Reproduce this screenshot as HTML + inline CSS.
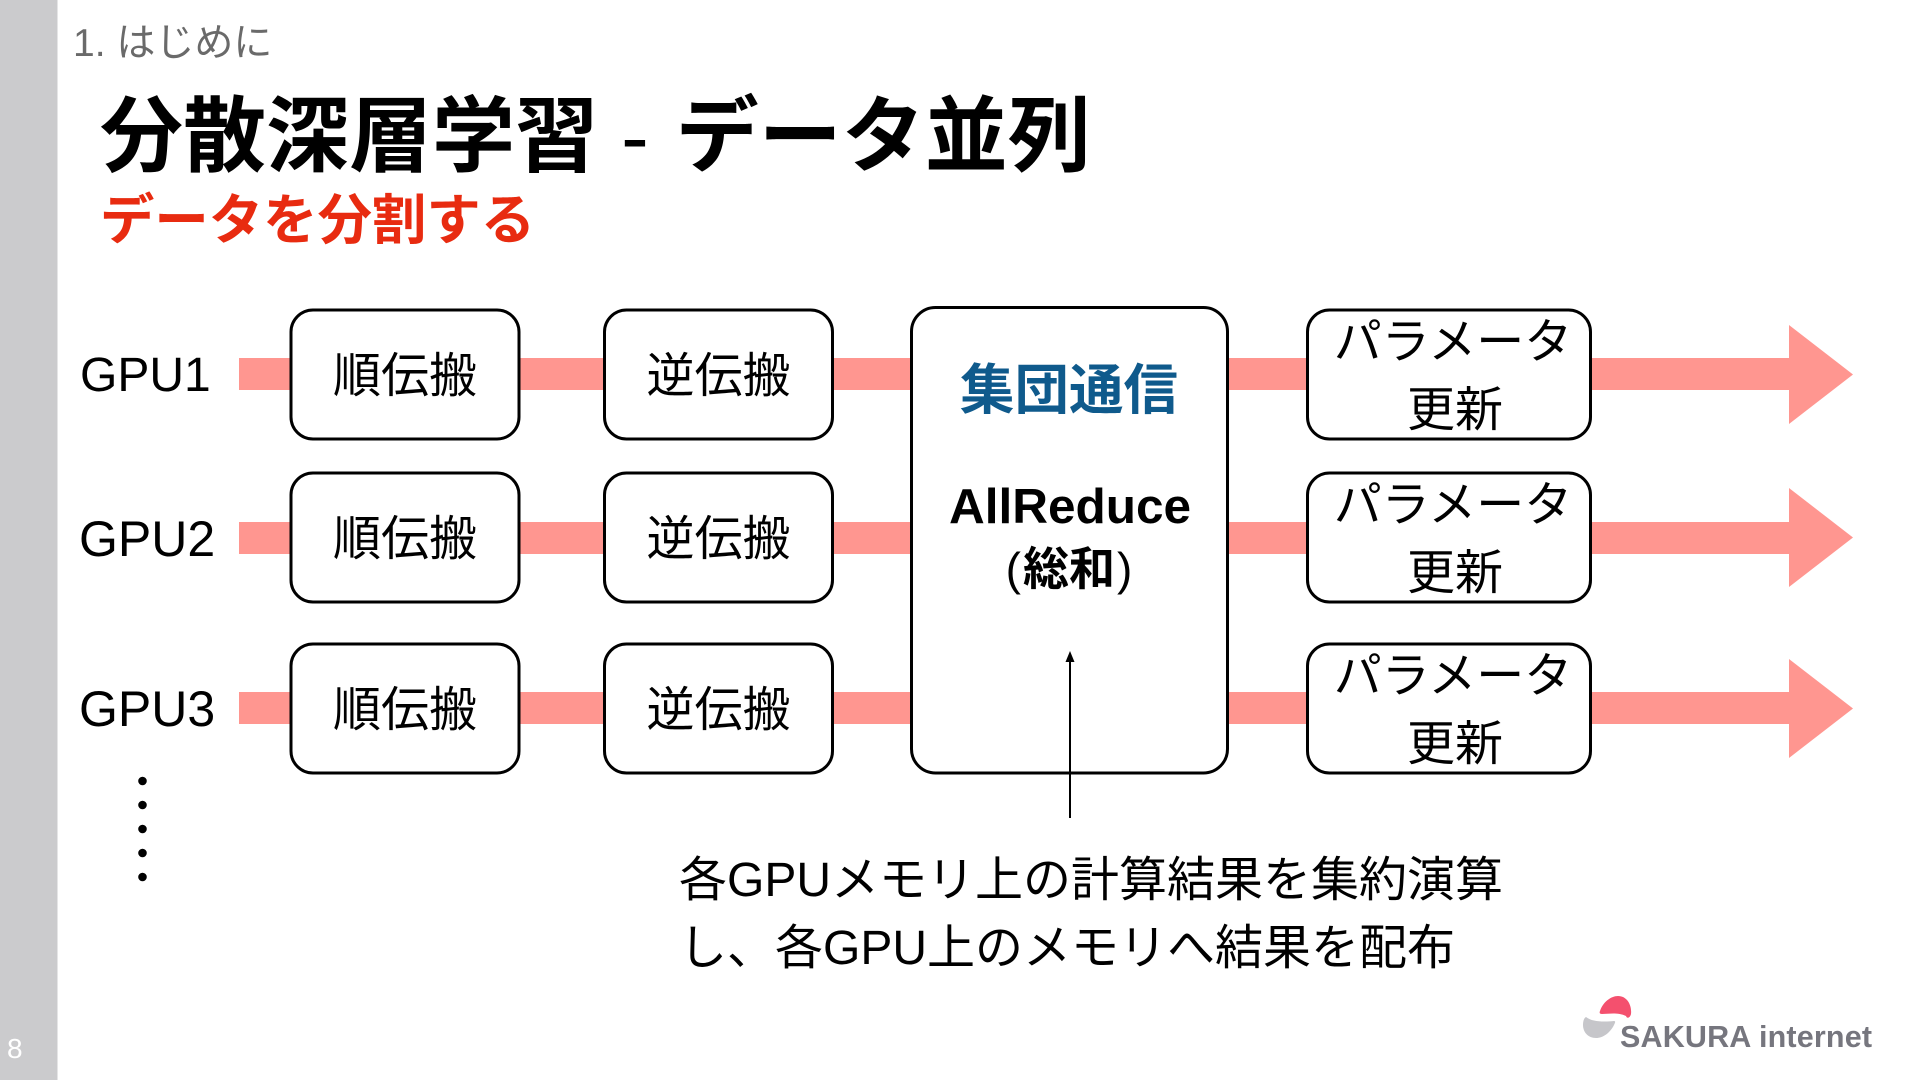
<!DOCTYPE html>
<html><head><meta charset="utf-8"><style>
html,body{margin:0;padding:0;background:#fff;width:1920px;height:1080px;overflow:hidden}
svg{display:block}
text{font-family:"Liberation Sans","Noto Sans CJK JP",sans-serif;fill:#000}
.b{font-size:48px;text-anchor:middle}
.g{font-size:50px}
.box{fill:#fff;stroke:#000;stroke-width:3}
.bar{fill:#ff9690}
</style></head><body>
<svg width="1920" height="1080" viewBox="0 0 1920 1080" xmlns="http://www.w3.org/2000/svg">
<rect width="1920" height="1080" fill="#fff"/>
<rect x="0" y="0" width="57.5" height="1080" fill="#cbcbcd"/>
<text x="7" y="1058" font-size="28" style="fill:#fff">8</text>
<text x="73" y="56" font-size="39" style="fill:#6a6a6a">1. はじめに</text>
<text x="100" y="165" font-size="83" font-weight="700">分散深層学習 <tspan font-weight="400">-</tspan> <tspan dx="4">データ並列</tspan></text>
<text x="100" y="239" font-size="54.4" font-weight="700" style="fill:#e82b10">データを分割する</text>

<rect class="bar" x="239" y="358" width="1560" height="32"/>
<rect class="bar" x="239" y="522" width="1560" height="32"/>
<rect class="bar" x="239" y="692" width="1560" height="32"/>
<polygon class="bar" points="1789,325 1853,374.5 1789,424"/>
<polygon class="bar" points="1789,488 1853,537.5 1789,587"/>
<polygon class="bar" points="1789,659 1853,708.5 1789,758"/>

<text x="80" y="391" font-size="48">GPU1</text>
<text class="g" x="79" y="556">GPU2</text>
<text class="g" x="79" y="726">GPU3</text>

<rect class="box" x="291" y="310" width="228" height="129" rx="22"/>
<rect class="box" x="291" y="473" width="228" height="129" rx="22"/>
<rect class="box" x="291" y="644" width="228" height="129" rx="22"/>
<rect class="box" x="604.5" y="310" width="228" height="129" rx="22"/>
<rect class="box" x="604.5" y="473" width="228" height="129" rx="22"/>
<rect class="box" x="604.5" y="644" width="228" height="129" rx="22"/>
<rect class="box" x="911.5" y="307.500" width="316" height="465.500" rx="24"/>
<rect class="box" x="1307.500" y="310" width="283" height="129" rx="22"/>
<rect class="box" x="1307.500" y="473" width="283" height="129" rx="22"/>
<rect class="box" x="1307.500" y="644" width="283" height="129" rx="22"/>

<text class="b" x="405" y="392">順伝搬</text>
<text class="b" x="405" y="555">順伝搬</text>
<text class="b" x="405" y="726">順伝搬</text>
<text class="b" x="718.500" y="392">逆伝搬</text>
<text class="b" x="718.500" y="555">逆伝搬</text>
<text class="b" x="718.500" y="726">逆伝搬</text>

<text class="b" x="1453" y="358">パラメータ</text>
<text class="b" x="1455" y="426">更新</text>
<text class="b" x="1453" y="521">パラメータ</text>
<text class="b" x="1455" y="589">更新</text>
<text class="b" x="1453" y="692">パラメータ</text>
<text class="b" x="1455" y="760">更新</text>

<text x="1069" y="409" font-size="54.5" font-weight="700" text-anchor="middle" style="fill:#0f5a8c">集団通信</text>
<text x="1070" y="523" font-size="49.500" font-weight="700" text-anchor="middle">AllReduce</text>
<text x="1071" y="585" font-size="46" font-weight="700" text-anchor="middle"><tspan dx="-2" font-weight="400">(</tspan><tspan dx="2">総和</tspan><tspan dx="2" font-weight="400">)</tspan></text>

<line x1="1070" y1="818" x2="1070" y2="660" stroke="#000" stroke-width="2"/>
<polygon points="1070,651 1074.500,662 1065.500,662" fill="#000"/>

<circle cx="142.500" cy="781" r="4.300"/>
<circle cx="142.500" cy="805" r="4.300"/>
<circle cx="142.500" cy="829" r="4.300"/>
<circle cx="142.500" cy="853" r="4.300"/>
<circle cx="142.500" cy="877" r="4.300"/>

<text class="g" style="font-size:48px" x="679" y="896">各GPUメモリ上の計算結果を集約演算</text>
<text class="g" style="font-size:48px" x="679" y="964">し、各GPU上のメモリへ結果を配布</text>

<path d="M1600,1011 C1603,1002 1611,996 1618,996 C1627,996 1632,1005 1631,1014 C1630,1018 1627,1019 1626,1016 C1618,1012 1608,1014 1602,1014 C1600,1014 1599,1013 1600,1011Z" fill="#f4506e"/>
<path d="M1586,1017 C1592,1022 1604,1022 1614,1021 C1616,1021 1615,1023 1614,1025 C1610,1033 1603,1038 1596,1038 C1588,1038 1583,1032 1583,1025 C1583,1021 1584,1018 1586,1017Z" fill="#c6c6ca"/>
<text x="1620" y="1047" font-size="30.5" font-weight="700" textLength="252" style="fill:#76767e;font-family:'Liberation Sans',sans-serif">SAKURA internet</text>
</svg>
</body></html>
